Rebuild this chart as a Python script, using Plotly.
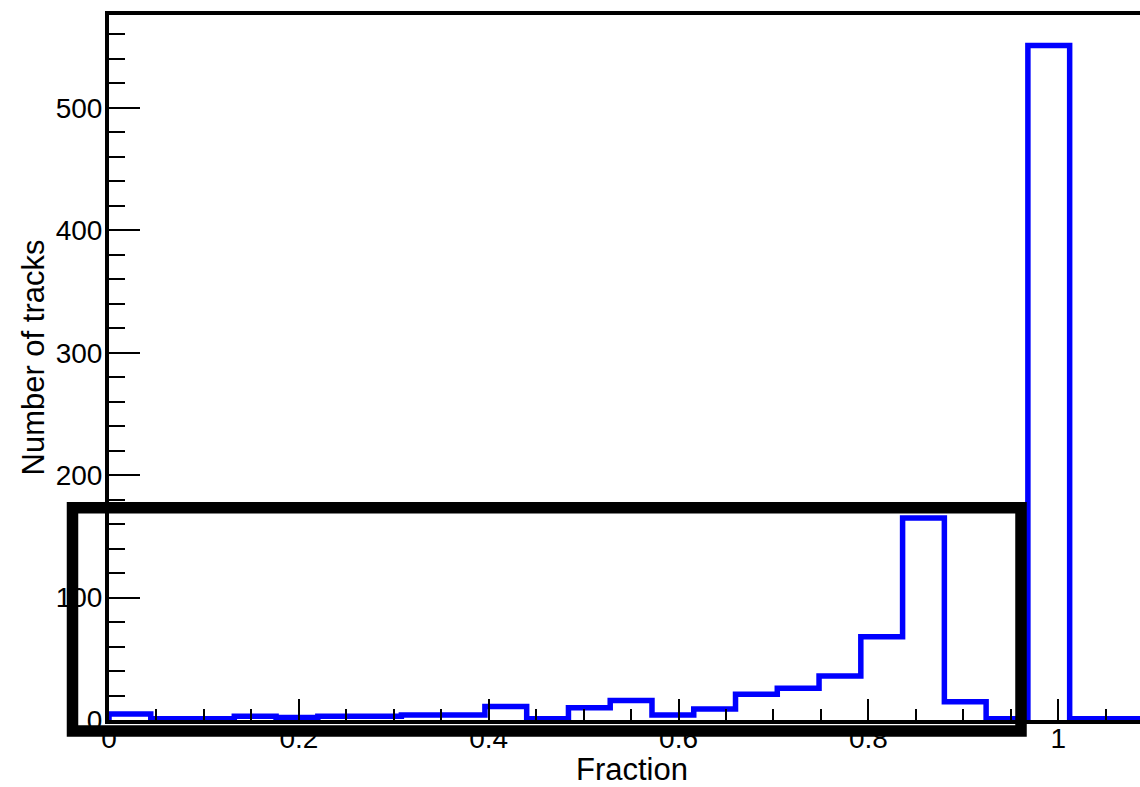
import numpy as np
import plotly.graph_objects as go

# Histogram definition (25 bins from 0 to 1.1)
bin_low = 0.0
bin_high = 1.1
n_bins = 25
counts = [5, 1, 1, 3, 2, 3, 3, 4, 4, 11, 1, 10, 16, 4, 9, 21, 26, 36, 68, 165, 15, 1, 551, 1, 1]

x_title = "Fraction"
y_title = "Number of tracks"
x_tick_vals = [0, 0.2, 0.4, 0.6, 0.8, 1.0]
x_tick_text = ["0", "0.2", "0.4", "0.6", "0.8", "1"]
y_tick_vals = [0, 100, 200, 300, 400, 500]
y_tick_text = ["0", "100", "200", "300", "400", "500"]

edges = np.linspace(bin_low, bin_high, n_bins + 1)
xs = [edges[0]] + list(edges[:-1]) + [edges[-1]]
ys = [0] + list(counts) + [counts[-1]]

W, H = 1140, 787
L, R, T, B = 109, 0, 13, 67
x_range = [0, 1.0861]
y_range = [0, 577.5]

font_family = "Liberation Sans, Arial, sans-serif"

fig = go.Figure()
fig.add_trace(go.Scatter(
    x=xs, y=ys, mode="lines", line=dict(color="#0000FF", width=5.5, shape="hv"),
    showlegend=False, hoverinfo="skip", cliponaxis=True,
))

pw = W - L - R
ph = H - T - B


def px_to_paper_x(px):
    return (px - L) / pw


def px_to_paper_y(py):
    return (H - B - py) / ph


fig.update_layout(
    width=W, height=H,
    margin=dict(l=L, r=R, t=T, b=B, pad=0),
    paper_bgcolor="white", plot_bgcolor="white",
    font=dict(family=font_family, color="black", size=28),
    xaxis=dict(
        range=x_range, showgrid=False, zeroline=False,
        showline=True, linecolor="black", linewidth=4, mirror=False,
        ticks="inside", ticklen=21, tickwidth=2, tickcolor="black",
        tickvals=x_tick_vals, ticktext=x_tick_text,
        tickfont=dict(size=28, family=font_family),
        ticklabelstandoff=-10,
        minor=dict(ticks="inside", ticklen=11, tickwidth=2, tickcolor="black", dtick=0.05, tick0=0, showgrid=False),
    ),
    yaxis=dict(
        range=y_range, showgrid=False, zeroline=False,
        showline=True, linecolor="black", linewidth=4, mirror=False,
        ticks="inside", ticklen=31, tickwidth=2, tickcolor="black",
        tickvals=y_tick_vals, ticktext=y_tick_text,
        tickfont=dict(size=28, family=font_family),
        ticklabelstandoff=-3,
        minor=dict(ticks="inside", ticklen=16, tickwidth=2, tickcolor="black", dtick=20, tick0=0, showgrid=False),
    ),
    shapes=[
        # top frame line
        dict(type="line", xref="paper", yref="paper", x0=px_to_paper_x(105), x1=1.05, y0=1, y1=1,
             line=dict(color="black", width=4), layer="above"),
        # highlight rectangle
        dict(type="rect", xref="paper", yref="paper",
             x0=px_to_paper_x(72.5), x1=px_to_paper_x(1021),
             y0=px_to_paper_y(731), y1=px_to_paper_y(507.8),
             line=dict(color="black", width=11.5), fillcolor="rgba(0,0,0,0)", layer="above"),
    ],
    annotations=[
        dict(text=x_title, xref="paper", yref="paper", x=px_to_paper_x(632), y=px_to_paper_y(769),
             xanchor="center", yanchor="middle", showarrow=False, font=dict(size=31, family=font_family)),
        dict(text=y_title, xref="paper", yref="paper", x=px_to_paper_x(33), y=px_to_paper_y(357.5),
             xanchor="center", yanchor="middle", textangle=-90, showarrow=False,
             font=dict(size=31, family=font_family)),
    ],
)

fig.write_html("out.html")
